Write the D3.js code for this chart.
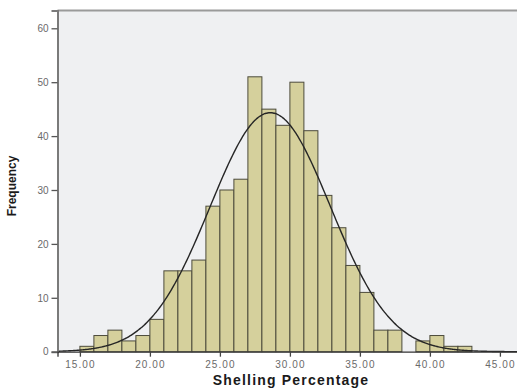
<!DOCTYPE html>
<html>
<head>
<meta charset="utf-8">
<script src="https://cdn.jsdelivr.net/npm/d3@7"></script>
<style>
  html, body { margin: 0; padding: 0; background: #ffffff; }
  svg { display: block; }
</style>
</head>
<body>
<svg id="chart" width="517" height="390"></svg>
<script>
// Histogram bins (1-unit wide, lower edges) and their counts
const binStarts = [15, 16, 17, 18, 19, 20, 21, 22, 23, 24, 25, 26, 27, 28, 29,
                   30, 31, 32, 33, 34, 35, 36, 37, 38, 39, 40, 41, 42];
const binCounts = [1, 3, 4, 2, 3, 6, 15, 15, 17, 27, 30, 32, 51, 45, 42,
                   50, 41, 29, 23, 16, 11, 4, 4, 0, 2, 3, 1, 1];
const binWidth = 1;

// Fitted normal curve parameters
const curveMean = 28.6;
const curveSd = 4.3;

// Axis ticks
const xTicks = [15, 20, 25, 30, 35, 40, 45];
const yTicks = [0, 10, 20, 30, 40, 50, 60];

const xTitle = "Shelling Percentage";
const yTitle = "Frequency";

const svg = d3.select("#chart");

const x = d3.scaleLinear().domain([13.4, 47]).range([57.5, 527.9]);
const y = d3.scaleLinear().domain([0, 63.3]).range([351.7, 10.5]);

// Plot background
svg.append("rect")
  .attr("x", x(13.4)).attr("y", y(63.3))
  .attr("width", x(47) - x(13.4)).attr("height", y(0) - y(63.3))
  .attr("fill", "#eff0f2");

// Top frame line
svg.append("line")
  .attr("x1", x(13.4)).attr("x2", 517)
  .attr("y1", y(63.3)).attr("y2", y(63.3))
  .attr("stroke", "#9a9a9a").attr("stroke-width", 2);

// Bars
const N = d3.sum(binCounts);
svg.append("g").selectAll("rect")
  .data(binStarts.map((s, i) => ({ s, c: binCounts[i] })).filter(d => d.c > 0))
  .join("rect")
  .attr("x", d => x(d.s))
  .attr("y", d => y(d.c))
  .attr("width", d => x(d.s + binWidth) - x(d.s))
  .attr("height", d => y(0) - y(d.c))
  .attr("fill", "#d5d09c")
  .attr("stroke", "#4c4b3c")
  .attr("stroke-width", 1);

// Normal curve scaled to counts
const pdf = v => N * binWidth / (curveSd * Math.sqrt(2 * Math.PI)) *
  Math.exp(-((v - curveMean) ** 2) / (2 * curveSd * curveSd));
const curveXs = d3.range(13.4, 47.01, 0.1);
svg.append("path")
  .datum(curveXs)
  .attr("d", d3.line().x(v => x(v)).y(v => y(pdf(v))).curve(d3.curveBasis))
  .attr("fill", "none")
  .attr("stroke", "#262626")
  .attr("stroke-width", 1.4);

// Y axis
const yAxis = svg.append("g")
  .attr("transform", `translate(${x(13.4)},0)`)
  .call(d3.axisLeft(y).tickValues(yTicks).tickSize(6).tickPadding(3).tickFormat(d3.format("d")));
yAxis.select(".domain").attr("stroke", "#7a7a7a").attr("stroke-width", 2);
yAxis.selectAll(".tick line").attr("stroke", "#555").attr("stroke-width", 1.3);
yAxis.selectAll(".tick text")
  .attr("fill", "#6a6a6a")
  .style("font-family", "Liberation Sans, Arial, sans-serif")
  .style("font-size", "10px");

// X axis
const xAxis = svg.append("g")
  .attr("transform", `translate(0,${y(0)})`)
  .call(d3.axisBottom(x).tickValues(xTicks).tickSize(5).tickPadding(4).tickFormat(d3.format(".2f")));
xAxis.select(".domain").attr("stroke", "#333").attr("stroke-width", 1.3);
xAxis.selectAll(".tick line").attr("stroke", "#444").attr("stroke-width", 1.3);
xAxis.selectAll(".tick text")
  .attr("fill", "#6a6a6a")
  .style("font-family", "Liberation Sans, Arial, sans-serif")
  .style("font-size", "10px")
  .style("letter-spacing", "1.1px");

// Axis titles
svg.append("text")
  .attr("x", 291).attr("y", 385)
  .attr("text-anchor", "middle")
  .style("font-family", "Liberation Sans, Arial, sans-serif")
  .style("font-weight", "bold")
  .style("font-size", "14px")
  .style("letter-spacing", "1.2px")
  .attr("fill", "#1a1a1a")
  .text(xTitle);

svg.append("text")
  .attr("transform", "translate(16,186) rotate(-90)")
  .attr("text-anchor", "middle")
  .style("font-family", "Liberation Sans, Arial, sans-serif")
  .style("font-weight", "bold")
  .style("font-size", "12px")
  .attr("fill", "#1a1a1a")
  .text(yTitle);
</script>
</body>
</html>
